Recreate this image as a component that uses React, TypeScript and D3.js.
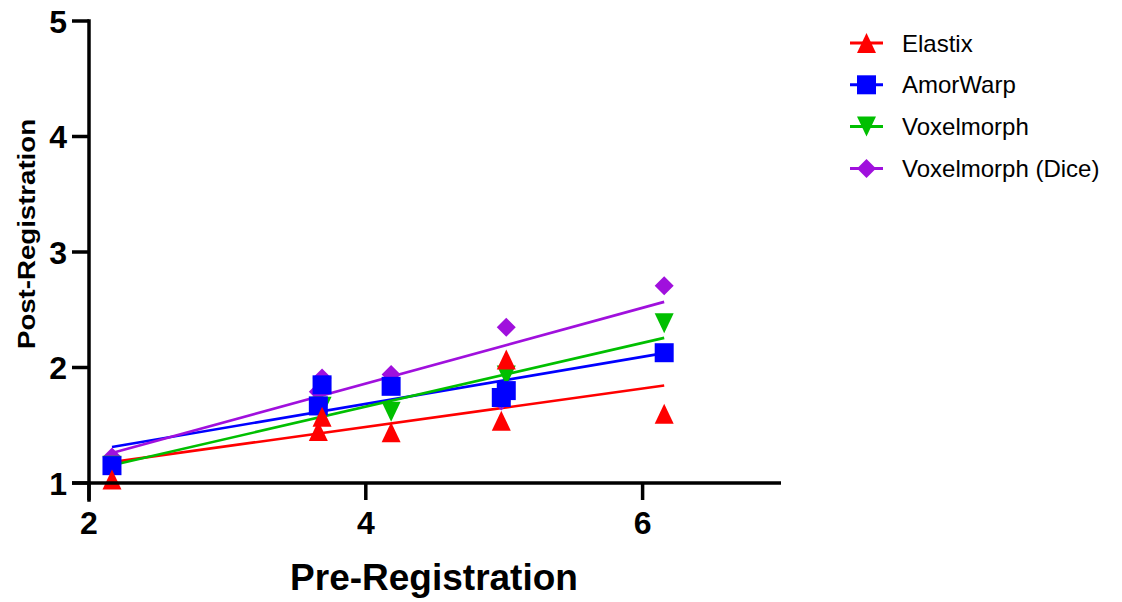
import React from "react";
import * as d3 from "d3";

// x values (pre-registration) shared by all series
const preRegistration = [2.166, 3.657, 3.684, 4.183, 4.979, 5.015, 6.156];

// post-registration values per method
const elastix = [1.03, 1.45, 1.574, 1.44, 1.54, 2.07, 1.6];
const amorWarp = [1.15, 1.667, 1.85, 1.837, 1.74, 1.8, 2.128];
const voxelmorph = [1.15, 1.66, 1.66, 1.617, 1.735, 1.93, 2.383];
const voxelmorphDice = [1.225, 1.79, 1.91, 1.94, 1.71, 2.348, 2.708];

const seriesNames = ["Elastix", "AmorWarp", "Voxelmorph", "Voxelmorph (Dice)"];
const seriesValues = [elastix, amorWarp, voxelmorph, voxelmorphDice];
const seriesColors = ["#ff0000", "#0000ff", "#00bf00", "#a010dd"];
const seriesShapes = ["up", "square", "down", "diamond"];

const xTicks = [2, 4, 6];
const yTicks = [1, 2, 3, 4, 5];

const font = "'Liberation Sans', Arial, sans-serif";

function markerPath(shape: string) {
  if (shape === "up") return "M0,-10L9.5,10L-9.5,10Z";
  if (shape === "down") return "M0,10L9.5,-10L-9.5,-10Z";
  if (shape === "square") return "M-9.5,-9.5H9.5V9.5H-9.5Z";
  return "M0,-9.5L9.5,0L0,9.5L-9.5,0Z";
}

// least squares line through the points
function fit(xs: number[], ys: number[]) {
  const mx = d3.mean(xs)!;
  const my = d3.mean(ys)!;
  const sxy = d3.sum(xs, (x, i) => (x - mx) * (ys[i] - my));
  const sxx = d3.sum(xs, (x) => (x - mx) * (x - mx));
  const slope = sxy / sxx;
  return (x: number) => my + slope * (x - mx);
}

export default function App() {
  const x = d3.scaleLinear().domain([2, 7]).range([89, 781]);
  const y = d3.scaleLinear().domain([1, 5]).range([483, 21]);
  const tick = 17;
  const [xMin, xMax] = d3.extent(preRegistration) as [number, number];

  // draw order: last series at the bottom
  const order = [3, 2, 1, 0];

  return (
    <svg
      width={1122}
      height={602}
      style={{ position: "absolute", left: 0, top: 0, background: "#fff" }}
    >
      {/* regression lines */}
      {seriesValues.map((vals, i) => {
        const f = fit(preRegistration, vals);
        return (
          <path
            key={"l" + i}
            d={d3
              .line<number>()
              .x((d) => x(d))
              .y((d) => y(f(d)))([xMin, xMax])!}
            fill="none"
            stroke={seriesColors[i]}
            strokeWidth={2.6}
          />
        );
      })}

      {/* points */}
      {order.map((i) =>
        seriesValues[i].map((v, j) => (
          <path
            key={"p" + i + "-" + j}
            d={markerPath(seriesShapes[i])}
            transform={`translate(${x(preRegistration[j])},${y(v)})`}
            fill={seriesColors[i]}
          />
        ))
      )}

      {/* axes */}
      <g stroke="#000" strokeWidth={3.5} fill="none">
        <line x1={x(2)} x2={x(2)} y1={y(5)} y2={y(1) + tick} strokeLinecap="square" />
        <line x1={x(2) - tick} x2={x(7)} y1={y(1)} y2={y(1)} />
        {yTicks.map((t) => (
          <line key={"yt" + t} x1={x(2) - tick} x2={x(2)} y1={y(t)} y2={y(t)} />
        ))}
        {xTicks.map((t) => (
          <line key={"xt" + t} x1={x(t)} x2={x(t)} y1={y(1)} y2={y(1) + tick} />
        ))}
      </g>
      <g fontFamily={font} fontWeight="bold" fontSize={32} fill="#000">
        {yTicks.map((t) => (
          <text key={"yl" + t} x={x(2) - tick - 5} y={y(t) + 11.5} textAnchor="end">
            {t}
          </text>
        ))}
        {xTicks.map((t) => (
          <text key={"xl" + t} x={x(t)} y={y(1) + 51} textAnchor="middle">
            {t}
          </text>
        ))}
      </g>
      <text
        x={434}
        y={590}
        textAnchor="middle"
        fontFamily={font}
        fontWeight="bold"
        fontSize={37}
      >
        Pre-Registration
      </text>
      <text
        transform="translate(35,234) rotate(-90)"
        textAnchor="middle"
        fontFamily={font}
        fontWeight="bold"
        fontSize={24}
        textLength={230}
        lengthAdjust="spacingAndGlyphs"
      >
        Post-Registration
      </text>

      {/* legend */}
      {seriesNames.map((name, i) => {
        const cy = 43 + i * 41.8;
        return (
          <g key={"lg" + i}>
            <line x1={850} x2={883} y1={cy} y2={cy} stroke={seriesColors[i]} strokeWidth={3} />
            <path d={markerPath(seriesShapes[i])} transform={`translate(866.5,${cy})`} fill={seriesColors[i]} />
            <text x={902} y={cy + 8.5} fontFamily={font} fontSize={24} fill="#000">
              {name}
            </text>
          </g>
        );
      })}
    </svg>
  );
}
